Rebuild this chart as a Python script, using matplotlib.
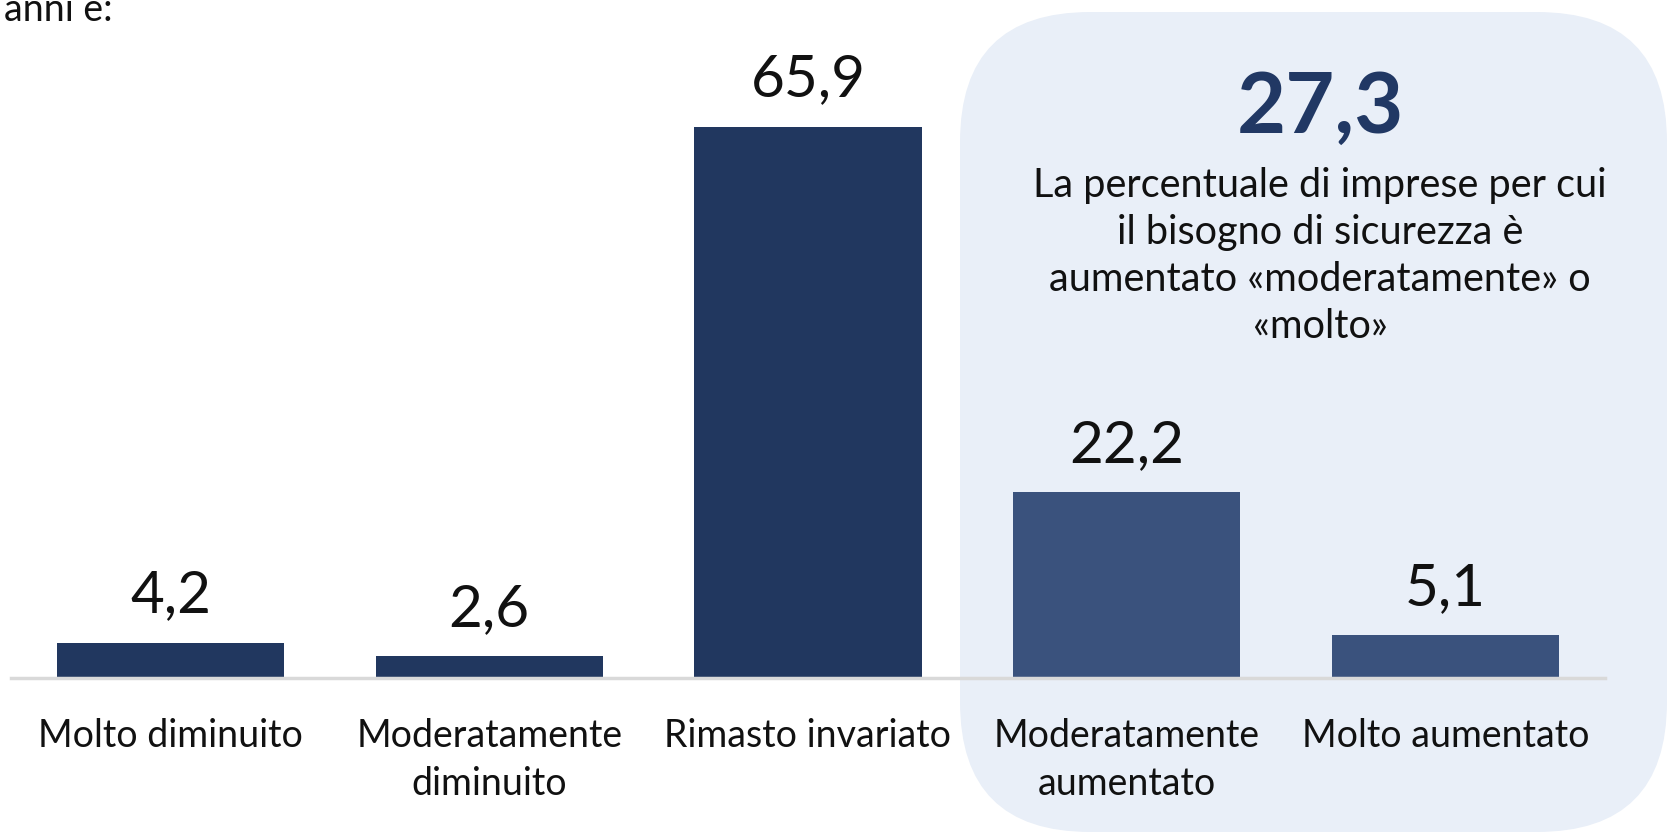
import matplotlib.pyplot as plt
from matplotlib.patches import FancyBboxPatch

plt.rcParams['font.family'] = ['Lato', 'DejaVu Sans']

categories = ["Molto diminuito", "Moderatamente\ndiminuito", "Rimasto invariato",
              "Moderatamente\naumentato", "Molto aumentato"]
values = [4.2, 2.6, 65.9, 22.2, 5.1]
value_labels = ["4,2", "2,6", "65,9", "22,2", "5,1"]
highlight_total = "27,3"
highlight_text = ("La percentuale di imprese per cui\nil bisogno di sicurezza è\n"
                  "aumentato «moderatamente» o\n«molto»")

dark = "#21375F"
light = "#3A527D"
bar_colors = [dark, dark, dark, light, light]

W, H = 1667, 832
fig = plt.figure(figsize=(W / 100, H / 100), dpi=100)

# shaded rounded panel behind the "aumentato" bars (pixel coordinates)
panel = FancyBboxPatch((960, 0), 707, 820,
                       boxstyle="round,pad=0,rounding_size=130",
                       transform=None, facecolor="#E9EFF8", edgecolor="none",
                       zorder=-5)
fig.add_artist(panel)

ax = fig.add_axes([11 / W, 1 - 678 / H, (1605 - 11) / W, 678 / H])
ax.patch.set_alpha(0)
x = range(len(values))
bars = ax.bar(x, values, width=0.713, color=bar_colors, zorder=2)
ax.set_xlim(-0.5, 4.5)
ax.set_ylim(0, 81.1)

for b, lab in zip(bars, value_labels):
    ax.annotate(lab, (b.get_x() + b.get_width() / 2, b.get_height()),
                xytext=(0, 22), textcoords="offset points",
                ha="center", va="baseline", fontsize=42, color="#111111")

for s in ["top", "right", "left"]:
    ax.spines[s].set_visible(False)
ax.spines["bottom"].set_color("#D9D9D9")
ax.spines["bottom"].set_linewidth(2.5)
ax.set_yticks([])
ax.set_xticks(list(x))
ax.set_xticklabels(categories, fontsize=27, color="#111111", linespacing=1.4)
ax.tick_params(axis="x", length=0, pad=29)

# highlight callout
fig.text(1320 / W, 1 - 133 / H, highlight_total, ha="center", va="baseline",
         fontsize=61, fontweight="bold", color="#213864")
fig.text(1320 / W, 1 - 167 / H, highlight_text, ha="center", va="top",
         fontsize=28.5, color="#111111", linespacing=1.33)

fig.text(113 / W, 1 - 21 / H, "anni è:", ha="right", va="baseline",
         fontsize=27, color="#111111")

fig.savefig("out.png", dpi=100)
